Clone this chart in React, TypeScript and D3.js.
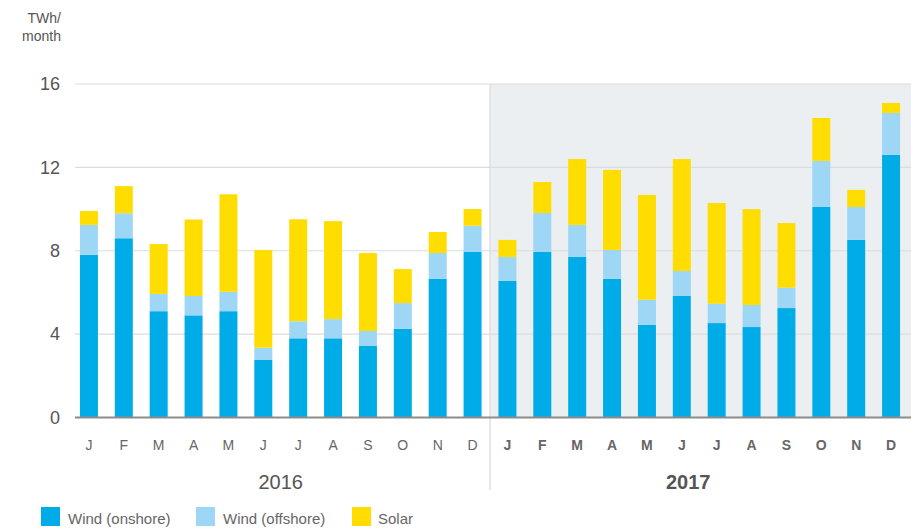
import * as d3 from "d3";

const W = 911;
const H = 529;
const MONTHS = ["J", "F", "M", "A", "M", "J", "J", "A", "S", "O", "N", "D"];
const YEARS = ["2016", "2017"];
const ONSHORE = [
  7.8, 8.6, 5.1, 4.9, 5.1, 2.76, 3.8, 3.8, 3.43, 4.25, 6.65, 7.94,
  6.56, 7.94, 7.7, 6.65, 4.44, 5.83, 4.53, 4.34, 5.25, 10.1, 8.52, 12.6,
];
const OFFSHORE = [
  1.44, 1.2, 0.83, 0.93, 0.93, 0.59, 0.82, 0.92, 0.72, 1.24, 1.24, 1.26,
  1.14, 1.87, 1.54, 1.39, 1.21, 1.2, 0.93, 1.06, 0.98, 2.21, 1.58, 2.01,
];
const SOLAR = [
  0.67, 1.3, 2.39, 3.67, 4.68, 4.69, 4.89, 4.7, 3.74, 1.63, 1.01, 0.8,
  0.82, 1.49, 3.16, 3.84, 5.03, 5.37, 4.83, 4.6, 3.1, 2.06, 0.82, 0.48,
];
const SERIES = [
  { key: "onshore", label: "Wind (onshore)", color: "#00ace8", values: ONSHORE },
  { key: "offshore", label: "Wind (offshore)", color: "#9dd7f5", values: OFFSHORE },
  { key: "solar", label: "Solar", color: "#ffdd00", values: SOLAR },
];
const Y_TICKS = [0, 4, 8, 12, 16];

const GL = 75; // grid left
const PT = 84;
const PB = 417.5;

export default function App() {
  const ids = ONSHORE.map((_, i) => `${YEARS[Math.floor(i / 12)]}-${i % 12}`);
  const rows = ids.map((id, i) => ({
    id,
    onshore: ONSHORE[i],
    offshore: OFFSHORE[i],
    solar: SOLAR[i],
  }));
  const stacked = d3
    .stack<(typeof rows)[0]>()
    .keys(SERIES.map((s) => s.key))(rows as any);

  const x = d3.scaleBand().domain(ids).range([71.5, 908.5]).paddingInner(0.484).paddingOuter(0.242);
  const y = d3.scaleLinear().domain([0, 16]).range([PB, PT]);

  const divX = ((x(ids[11]) ?? 0) + x.bandwidth() + (x(ids[12]) ?? 0)) / 2;
  const font = "'Liberation Sans', Arial, sans-serif";

  return (
    <svg
      width={W}
      height={H}
      style={{ position: "absolute", left: 0, top: 0, fontFamily: font }}
    >
      <rect x={divX} y={PT} width={W - divX} height={PB - PT} fill="#ebeff2" />
      <g stroke="#dcdcdc" strokeWidth={1.2}>
        {Y_TICKS.slice(1).map((t) => (
          <line key={t} x1={GL} x2={W} y1={y(t)} y2={y(t)} />
        ))}
      </g>
      <line x1={divX} x2={divX} y1={PT} y2={490} stroke="#d8d8d8" strokeWidth={1.2} />

      {stacked.map((layer, si) => (
        <g key={layer.key} fill={SERIES[si].color}>
          {layer.map((d, i) => (
            <rect
              key={i}
              x={x(ids[i])}
              width={x.bandwidth()}
              y={y(d[1])}
              height={y(d[0]) - y(d[1])}
            />
          ))}
        </g>
      ))}

      <line x1={GL} x2={W} y1={PB} y2={PB} stroke="#8c8c8c" strokeWidth={2} />

      <g fill="#555" fontSize={18} textAnchor="end">
        {Y_TICKS.map((t) => (
          <text key={t} x={60} y={y(t)} dy="0.35em">
            {t}
          </text>
        ))}
      </g>
      <g fill="#555" fontSize={14} textAnchor="end">
        <text x={61} y={23}>TWh/</text>
        <text x={61} y={41}>month</text>
      </g>

      <g fill="#666" fontSize={14} textAnchor="middle">
        {ids.map((id, i) => (
          <text
            key={id}
            x={(x(id) ?? 0) + x.bandwidth() / 2}
            y={450}
            fontWeight={i >= 12 ? "bold" : "normal"}
          >
            {MONTHS[i % 12]}
          </text>
        ))}
      </g>
      <g fill="#555" fontSize={20} textAnchor="middle">
        <text x={((x(ids[0]) ?? 0) + (x(ids[11]) ?? 0) + x.bandwidth()) / 2} y={489}>
          {YEARS[0]}
        </text>
        <text
          x={((x(ids[12]) ?? 0) + (x(ids[23]) ?? 0) + x.bandwidth()) / 2 - 11}
          y={489}
          fontWeight="bold"
        >
          {YEARS[1]}
        </text>
      </g>

      <g fontSize={15} fill="#666">
        {SERIES.map((s, i) => {
          const lx = [41, 196, 352][i];
          return (
            <g key={s.key} transform={`translate(${lx},507)`}>
              <rect width={19} height={19} fill={s.color} />
              <text x={i === 2 ? 26 : 27} y={17}>
                {s.label}
              </text>
            </g>
          );
        })}
      </g>
    </svg>
  );
}
